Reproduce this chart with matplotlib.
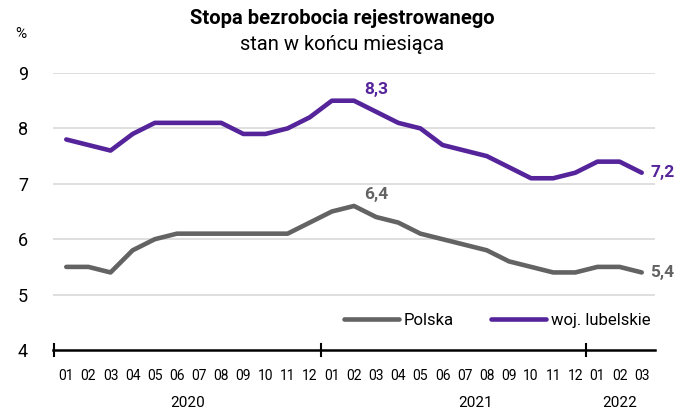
import matplotlib
matplotlib.use("Agg")
import matplotlib.pyplot as plt
from matplotlib.lines import Line2D
from matplotlib.transforms import blended_transform_factory

plt.rcParams['font.family'] = ['Roboto', 'DejaVu Sans']

months = ["01", "02", "03", "04", "05", "06", "07", "08", "09", "10", "11", "12",
          "01", "02", "03", "04", "05", "06", "07", "08", "09", "10", "11", "12",
          "01", "02", "03"]
years = ["2020", "2021", "2022"]
polska = [5.5, 5.5, 5.4, 5.8, 6.0, 6.1, 6.1, 6.1, 6.1, 6.1, 6.1, 6.3,
          6.5, 6.6, 6.4, 6.3, 6.1, 6.0, 5.9, 5.8, 5.6, 5.5, 5.4, 5.4,
          5.5, 5.5, 5.4]
lubelskie = [7.8, 7.7, 7.6, 7.9, 8.1, 8.1, 8.1, 8.1, 7.9, 7.9, 8.0, 8.2,
             8.5, 8.5, 8.3, 8.1, 8.0, 7.7, 7.6, 7.5, 7.3, 7.1, 7.1, 7.2,
             7.4, 7.4, 7.2]

c_pl = "#636363"
c_lu = "#55249b"

fig = plt.figure(figsize=(6.77, 4.11), dpi=100)
W, H = 677, 411
ax = fig.add_axes([53 / W, 1 - 350 / H, (655 - 53) / W, (350 - 73) / H])

x = list(range(len(months)))
ax.plot(x, polska, color=c_pl, lw=3.3, solid_capstyle='round', solid_joinstyle='round', zorder=3)
ax.plot(x, lubelskie, color=c_lu, lw=3.3, solid_capstyle='round', solid_joinstyle='round', zorder=3)

ax.set_xlim(-0.6, 26.6)
ax.set_ylim(4, 9)
for v in [5, 6, 7, 8, 9]:
    ax.axhline(v, color="#d9d9d9", lw=1.2, zorder=1)

for s in ["top", "right", "left"]:
    ax.spines[s].set_visible(False)
ax.spines["bottom"].set_color("black")
ax.spines["bottom"].set_linewidth(1.8)

ax.set_yticks([4, 5, 6, 7, 8, 9])
ax.set_yticklabels(["4", "5", "6", "7", "8", "9"], fontsize=13)
ax.tick_params(axis='y', length=0, pad=18)

ax.set_xticks(x)
ax.set_xticklabels(months, fontsize=10)
ax.tick_params(axis='x', length=0, pad=14)

tr = blended_transform_factory(ax.transData, ax.transAxes)
for sep in [-0.55, 11.5, 23.5]:
    ax.add_line(Line2D([sep, sep], [-0.022, 0.022], transform=tr, color='black', lw=1.5, clip_on=False))

year_pos = [5.5, 18.5, 25.0]
for yp, yl in zip(year_pos, years):
    ax.text(yp, -0.19, yl, transform=tr, ha='center', va='center', fontsize=11)

fig.text(15 / W, 1 - 34 / H, "%", fontsize=11, ha='left', va='center')

fig.text(342 / W, 1 - 19 / H, "Stopa bezrobocia rejestrowanego", fontsize=14.5,
         fontweight='bold', ha='center', va='center')
fig.text(342 / W, 1 - 45 / H, "stan w końcu miesiąca", fontsize=14.5, ha='center', va='center')

ax.annotate("8,3", (14, lubelskie[14]), xytext=(0, 16), textcoords='offset points',
            ha='center', va='center', color=c_lu, fontweight='bold', fontsize=12.5)
ax.annotate("6,4", (14, polska[14]), xytext=(0, 16), textcoords='offset points',
            ha='center', va='center', color=c_pl, fontweight='bold', fontsize=12.5)
ax.annotate("7,2", (26, lubelskie[26]), xytext=(6, 0), textcoords='offset points',
            ha='left', va='center', color=c_lu, fontweight='bold', fontsize=12.5, annotation_clip=False)
ax.annotate("5,4", (26, polska[26]), xytext=(6, 0), textcoords='offset points',
            ha='left', va='center', color=c_pl, fontweight='bold', fontsize=12.5, annotation_clip=False)

handles = [Line2D([], [], color=c_pl, lw=3.3, solid_capstyle='round'),
           Line2D([], [], color=c_lu, lw=3.3, solid_capstyle='round')]
leg = ax.legend(handles, ["Polska", "woj. lubelskie"], loc='center', bbox_to_anchor=(497 / W, 1 - 320 / H),
                bbox_transform=fig.transFigure, ncol=2, frameon=False, fontsize=12,
                handlelength=3.3, handletextpad=0.3, columnspacing=2.2)

fig.savefig("out.png", dpi=100)
